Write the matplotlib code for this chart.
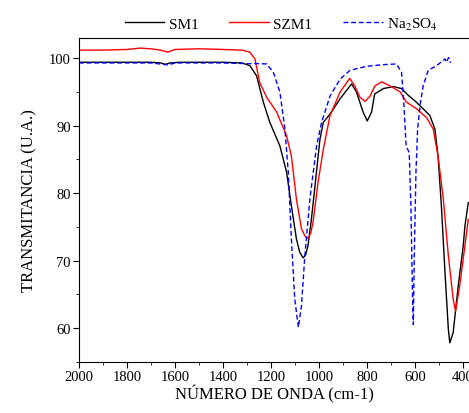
import matplotlib
matplotlib.use("Agg")
import matplotlib.pyplot as plt
from matplotlib.ticker import MultipleLocator

# wavenumbers (cm-1) and transmittance
sm1_x = [2000, 1900, 1800, 1700, 1660, 1640, 1620, 1580, 1500, 1400, 1320, 1288,
         1260, 1232, 1205, 1163, 1135, 1115, 1094, 1080, 1066, 1056, 1046, 1032,
         1018, 996, 982, 954, 912, 864, 844, 816, 799, 781, 768, 732, 690, 656,
         628, 601, 566, 538, 517, 504, 490, 475, 461, 455, 441, 420, 399, 392, 378]
sm1_y = [99.4, 99.4, 99.4, 99.4, 99.3, 99.1, 99.3, 99.4, 99.4, 99.4, 99.3, 98.9,
         97.4, 93.5, 90.5, 87.0, 83.1, 78.1, 73.2, 71.2, 70.4, 70.8, 72.2, 76.0,
         80.6, 88.0, 90.5, 91.7, 94.0, 96.2, 95.0, 92.0, 90.7, 92.0, 94.7, 95.5,
         95.8, 95.5, 94.5, 93.7, 92.5, 91.5, 89.5, 85.5, 78.1, 68.2, 59.8, 57.8,
         59.3, 66.2, 72.2, 75.1, 78.6]

szm1_x = [2000, 1900, 1800, 1746, 1700, 1660, 1630, 1600, 1500, 1400, 1320, 1288,
          1267, 1247, 1218, 1176, 1135, 1115, 1094, 1073, 1058, 1046, 1035, 1025,
          1004, 982, 954, 912, 872, 851, 829, 808, 787, 767, 739, 704, 662, 636,
          593, 552, 524, 504, 482, 461, 441, 431, 414, 392, 378]
szm1_y = [101.2, 101.2, 101.3, 101.5, 101.4, 101.2, 100.9, 101.3, 101.4, 101.3, 101.2, 100.9,
          99.9, 96.4, 94.2, 92.0, 88.5, 85.5, 79.1, 74.7, 73.6, 73.3, 74.0, 75.6,
          81.6, 86.5, 91.5, 95.0, 97.0, 95.9, 94.2, 93.6, 94.4, 95.9, 96.5, 95.9,
          95.0, 93.5, 92.5, 91.2, 89.5, 85.5, 79.1, 70.7, 64.3, 62.5, 66.2, 72.2,
          76.1]

na2so4_x = [2000, 1900, 1800, 1700, 1650, 1630, 1600, 1500, 1400, 1300, 1250,
            1218, 1190, 1163, 1142, 1128, 1115, 1101, 1086, 1073, 1059, 1038, 1010,
            989, 954, 912, 871, 802, 732, 677, 656, 646, 637, 624, 617, 610, 607,
            603, 596, 589, 579, 566, 545, 510, 475, 469, 460, 452]
na2so4_y = [99.3, 99.3, 99.3, 99.3, 99.1, 99.0, 99.3, 99.3, 99.3, 99.2, 99.2,
            99.15, 97.9, 95.0, 89.5, 83.1, 73.2, 64.3, 60.1, 63.3, 70.7, 79.1, 87.0,
            90.5, 94.4, 96.9, 98.2, 98.8, 99.05, 99.15, 97.9, 93.0, 87.0, 86.0, 78.1,
            64.3, 60.5, 70.7, 83.1, 89.5, 93.0, 95.9, 98.2, 98.9, 99.9, 99.4, 100.1,
            99.3]

plt.rcParams["font.family"] = ["Liberation Serif", "DejaVu Serif"]
plt.rcParams["mathtext.fontset"] = "stix"

fig = plt.figure(figsize=(4.69, 4.14), dpi=100)
ax = fig.add_axes([0.1684, 0.1239, 0.8316, 0.7819])

ax.plot(sm1_x, sm1_y, color="black", lw=1.0, label="SM1")
ax.plot(szm1_x, szm1_y, color="red", lw=1.0, label="SZM1")
ax.plot(na2so4_x, na2so4_y, color="blue", lw=1.0, ls=(0, (3.5, 2)),
        label="Na$_2$SO$_4$")

ax.set_xlim(2000, 375)
ax.set_ylim(55, 103)
ax.xaxis.set_major_locator(MultipleLocator(200))
ax.xaxis.set_minor_locator(MultipleLocator(100))
ax.yaxis.set_major_locator(MultipleLocator(10))
ax.yaxis.set_minor_locator(MultipleLocator(5))
ax.tick_params(which="both", direction="out", labelsize=10.5, pad=2)
ax.tick_params(which="major", length=4)
ax.tick_params(which="minor", length=2.5)
ax.spines["right"].set_visible(False)

ax.set_xlabel("NÚMERO DE ONDA (cm-1)", fontsize=12, labelpad=1)
ax.set_ylabel("TRANSMITANCIA (U.A.)", fontsize=12, labelpad=8)

fig.legend(loc="center", bbox_to_anchor=(0.6, 0.94), ncol=3, frameon=False,
           fontsize=11, handlelength=2.6, columnspacing=2.0, handletextpad=0.3)

fig.savefig("out.png", dpi=100)
